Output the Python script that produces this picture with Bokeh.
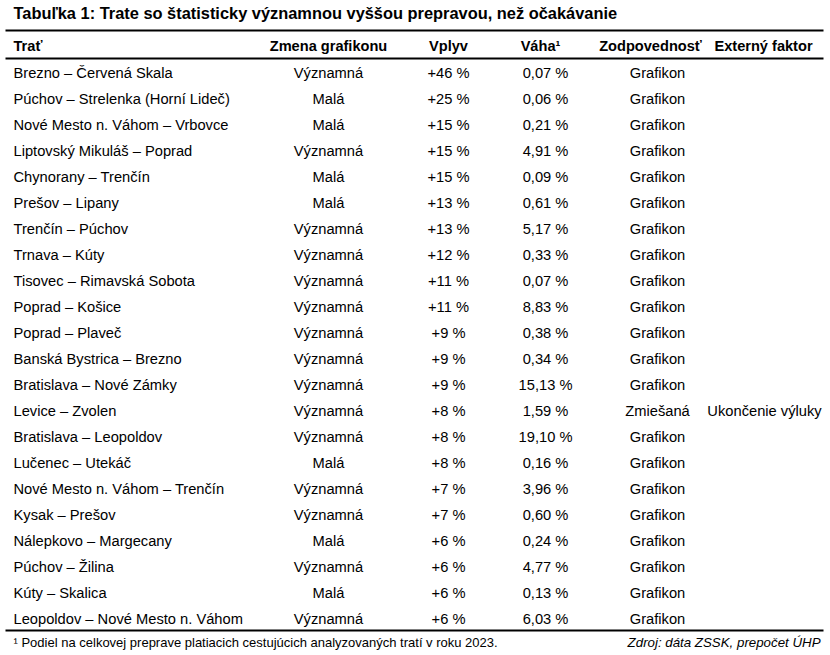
from bokeh.plotting import figure
from bokeh.models import Range1d, ColumnDataSource
from bokeh.core.properties import value
from bokeh.embed import file_html
from bokeh.resources import INLINE

title = "Tabuľka 1: Trate so štatisticky významnou vyššou prepravou, než očakávanie"
headers = ["Trať", "Zmena grafikonu", "Vplyv", "Váha¹", "Zodpovednosť", "Externý faktor"]

trat = ["Brezno – Červená Skala", "Púchov – Strelenka (Horní Lideč)", "Nové Mesto n. Váhom – Vrbovce",
        "Liptovský Mikuláš – Poprad", "Chynorany – Trenčín", "Prešov – Lipany", "Trenčín – Púchov",
        "Trnava – Kúty", "Tisovec – Rimavská Sobota", "Poprad – Košice", "Poprad – Plaveč",
        "Banská Bystrica – Brezno", "Bratislava – Nové Zámky", "Levice – Zvolen", "Bratislava – Leopoldov",
        "Lučenec – Utekáč", "Nové Mesto n. Váhom – Trenčín", "Kysak – Prešov", "Nálepkovo – Margecany",
        "Púchov – Žilina", "Kúty – Skalica", "Leopoldov – Nové Mesto n. Váhom"]
zmena = ["Významná", "Malá", "Malá", "Významná", "Malá", "Malá", "Významná", "Významná", "Významná",
         "Významná", "Významná", "Významná", "Významná", "Významná", "Významná", "Malá", "Významná",
         "Významná", "Malá", "Významná", "Malá", "Významná"]
vplyv = [46, 25, 15, 15, 15, 13, 13, 12, 11, 11, 9, 9, 9, 8, 8, 8, 7, 7, 6, 6, 6, 6]
vaha = [0.07, 0.06, 0.21, 4.91, 0.09, 0.61, 5.17, 0.33, 0.07, 8.83, 0.38, 0.34, 15.13, 1.59, 19.10,
        0.16, 3.96, 0.60, 0.24, 4.77, 0.13, 6.03]
zodp = ["Grafikon"] * 13 + ["Zmiešaná"] + ["Grafikon"] * 8
ext = [""] * 13 + ["Ukončenie výluky"] + [""] * 8
footnote = "¹ Podiel na celkovej preprave platiacich cestujúcich analyzovaných tratí v roku 2023."
source_txt = "Zdroj: dáta ZSSK, prepočet ÚHP"

FONT = "Liberation Sans"
W, H = 830, 655
p = figure(width=W, height=H, x_range=Range1d(0, W), y_range=Range1d(H, 0),
           output_backend="svg", toolbar_location=None, min_border=0)
p.axis.visible = False
p.grid.visible = False
p.outline_line_color = None
p.background_fill_color = "white"
p.border_fill_color = "white"

row0, dy = 72, 26
ys = [row0 + i * dy for i in range(len(trat))]
BODY = "14.7px"

def col(x, texts, align, size=BODY, style="normal", y=None):
    src = ColumnDataSource(dict(x=[x] * len(texts), y=y if y is not None else ys, t=texts))
    p.text("x", "y", "t", source=src, text_font=value(FONT), text_font_size=size,
           text_align=align, text_baseline="middle", text_color="black", text_font_style=style)

col(13, trat, "left")
col(328, zmena, "center")
col(448, ["+%d %%" % v for v in vplyv], "center")
col(545, [("%.2f %%" % v).replace(".", ",") for v in vaha], "center")
col(657, zodp, "center")
col(764, ext, "center")

# header
hx = [13, 328, 448, 540, 650, 763]
ha = ["left", "center", "center", "center", "center", "center"]
for x, t, a in zip(hx, headers, ha):
    p.text([x], [45], text=[t], text_font=value(FONT), text_font_size="14.6px", text_align=a,
           text_baseline="middle", text_font_style="bold", text_color="black")

# title
p.text([13], [12], text=[title], text_font=value(FONT), text_font_size="16.4px", text_align="left",
       text_baseline="middle", text_font_style="bold", text_color="black")

# rules
p.segment(x0=[5, 5, 5], y0=[30, 58, 630], x1=[823, 823, 823], y1=[30, 58, 630],
          line_color="black", line_width=2)

# footnotes
p.text([13], [642], text=[footnote], text_font=value(FONT), text_font_size="13px", text_align="left",
       text_baseline="middle", text_color="black")
p.text([820], [642], text=[source_txt], text_font=value(FONT), text_font_size="13.3px", text_align="right",
       text_baseline="middle", text_font_style="italic", text_color="black")

open("out.html", "w").write(file_html(p, INLINE))
